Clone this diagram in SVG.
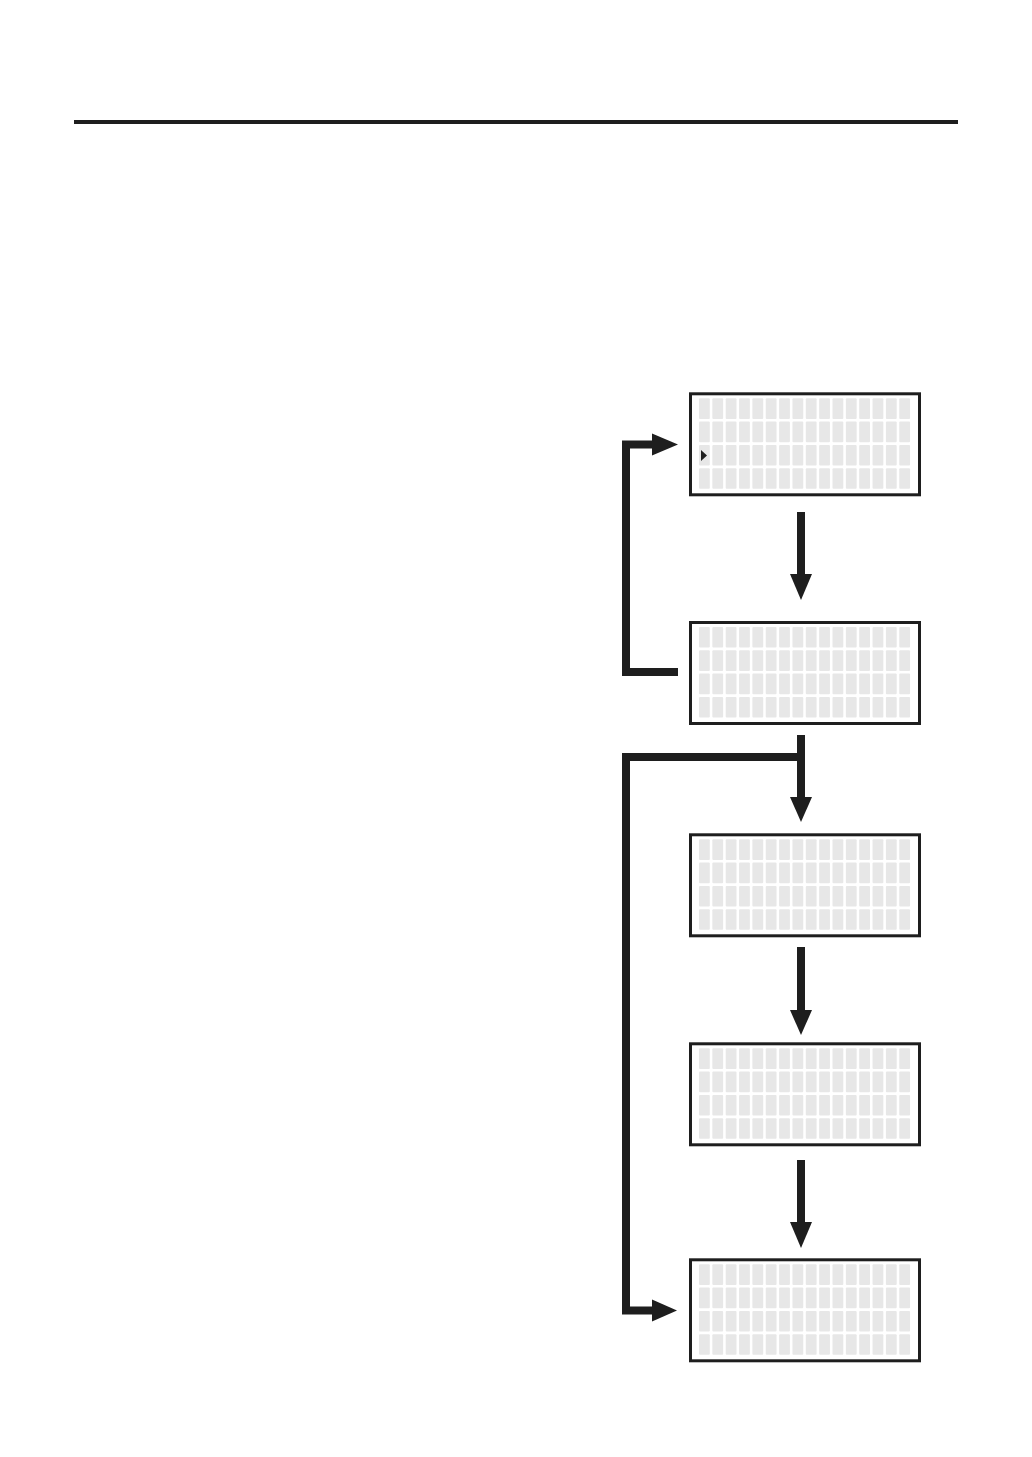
<svg xmlns="http://www.w3.org/2000/svg" xmlns:xlink="http://www.w3.org/1999/xlink" width="1032" height="1457" viewBox="0 0 1032 1457">
  <style>
    .frame { fill: #ffffff; stroke: #1e1e1e; stroke-width: 3; }
    .cell { fill: #e7e7e7; }
    .wire { fill: none; stroke: #1e1e1e; stroke-width: 8; stroke-linejoin: miter; stroke-linecap: butt; }
    .head { fill: #1e1e1e; }
  </style>
  <defs>
    <g id="cellrow">
      <rect class="cell" x="0" y="0" width="10.8" height="20.6" rx="1"/>
      <rect class="cell" x="13.35" y="0" width="10.8" height="20.6" rx="1"/>
      <rect class="cell" x="26.7" y="0" width="10.8" height="20.6" rx="1"/>
      <rect class="cell" x="40.05" y="0" width="10.8" height="20.6" rx="1"/>
      <rect class="cell" x="53.4" y="0" width="10.8" height="20.6" rx="1"/>
      <rect class="cell" x="66.75" y="0" width="10.8" height="20.6" rx="1"/>
      <rect class="cell" x="80.1" y="0" width="10.8" height="20.6" rx="1"/>
      <rect class="cell" x="93.45" y="0" width="10.8" height="20.6" rx="1"/>
      <rect class="cell" x="106.8" y="0" width="10.8" height="20.6" rx="1"/>
      <rect class="cell" x="120.15" y="0" width="10.8" height="20.6" rx="1"/>
      <rect class="cell" x="133.5" y="0" width="10.8" height="20.6" rx="1"/>
      <rect class="cell" x="146.85" y="0" width="10.8" height="20.6" rx="1"/>
      <rect class="cell" x="160.2" y="0" width="10.8" height="20.6" rx="1"/>
      <rect class="cell" x="173.55" y="0" width="10.8" height="20.6" rx="1"/>
      <rect class="cell" x="186.9" y="0" width="10.8" height="20.6" rx="1"/>
      <rect class="cell" x="200.25" y="0" width="10.8" height="20.6" rx="1"/>
    </g>
    <g id="screen">
      <rect class="frame" x="1.5" y="1.5" width="229" height="101"/>
      <use xlink:href="#cellrow" href="#cellrow" x="10" y="6"/>
      <use xlink:href="#cellrow" href="#cellrow" x="10" y="29.3"/>
      <use xlink:href="#cellrow" href="#cellrow" x="10" y="52.6"/>
      <use xlink:href="#cellrow" href="#cellrow" x="10" y="75.9"/>
    </g>
  </defs>

  <rect x="74" y="120" width="884" height="4" fill="#1e1e1e"/>

  <g id="screen1">
    <use xlink:href="#screen" href="#screen" x="689" y="392.3"/>
    <polygon class="head" points="701,450 707,455.5 701,461"/>
  </g>
  <g id="screen2">
    <use xlink:href="#screen" href="#screen" x="689" y="621"/>
  </g>
  <g id="screen3">
    <use xlink:href="#screen" href="#screen" x="689" y="833.3"/>
  </g>
  <g id="screen4">
    <use xlink:href="#screen" href="#screen" x="689" y="1042.3"/>
  </g>
  <g id="screen5">
    <use xlink:href="#screen" href="#screen" x="689" y="1258.3"/>
  </g>

  <g id="connectors">
    <path class="wire" d="M801 512 V576"/>
    <polygon class="head" points="790,574 812,574 801,600"/>

    <path class="wire" d="M801 735 V799"/>
    <polygon class="head" points="790,797 812,797 801,822"/>

    <path class="wire" d="M801 947 V1012"/>
    <polygon class="head" points="790,1010 812,1010 801,1035"/>

    <path class="wire" d="M801 1160 V1224"/>
    <polygon class="head" points="790,1222 812,1222 801,1248"/>

    <path class="wire" d="M678 672 H626 V444.5 H654"/>
    <polygon class="head" points="652,433.5 678,444.5 652,455.5"/>

    <path class="wire" d="M805 757 H626 V1310.5 H654"/>
    <polygon class="head" points="652,1299.5 677,1310.5 652,1321.5"/>
  </g>
</svg>
